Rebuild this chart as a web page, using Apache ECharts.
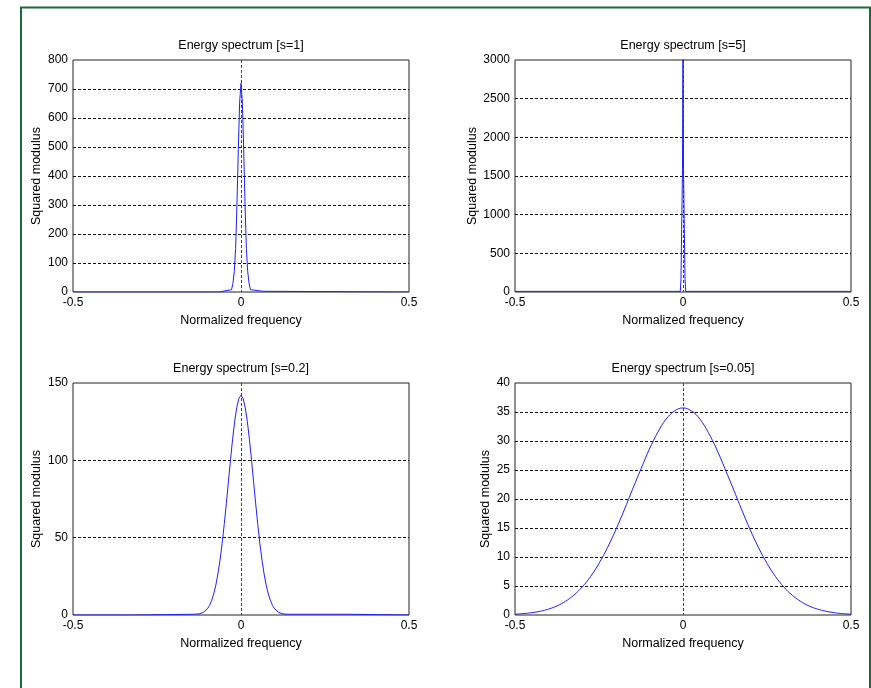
<!DOCTYPE html>
<html>
<head>
<meta charset="utf-8">
<title>Energy spectrum</title>
<script src="https://cdn.jsdelivr.net/npm/echarts@6/dist/echarts.min.js"></script>
<style>
  html, body { margin: 0; padding: 0; background: #fff; }
  #chart { width: 871px; height: 688px; }
</style>
</head>
<body>
<div id="chart"></div>
<script>
// panel titles / axis ranges
var titles = ['Energy spectrum [s=1]', 'Energy spectrum [s=5]', 'Energy spectrum [s=0.2]', 'Energy spectrum [s=0.05]'];
var yMax = [800, 3000, 150, 40];
var yStep = [100, 500, 50, 5];

// s=1
var freq1 = [-0.5, -0.066, -0.065, -0.028, -0.024, -0.02, -0.016, -0.012, -0.008, -0.004, 0,
  0.004, 0.008, 0.012, 0.016, 0.02, 0.024, 0.028, 0.065, 0.066, 0.5];
var mod1 = [0, 0, 2.5, 8, 30, 70, 150, 300, 490, 655, 720,
  655, 490, 300, 150, 70, 30, 8, 2.5, 0, 0];

// s=5, peak goes past the top of the axes
var freq2 = [-0.5, -0.008, -0.006, -0.0015, 0, 0.0015, 0.006, 0.008, 0.5];
var mod2 = [8, 8, 160, 1580, 3570, 1580, 160, 8, 8];

// s=0.2
var freq3 = [-0.5, -0.316, -0.315, -0.1375, -0.125, -0.1125, -0.1, -0.09375, -0.0875, -0.08125, -0.075,
  -0.06875, -0.0625, -0.05625, -0.05, -0.04375, -0.0375, -0.03125, -0.025, -0.01875, -0.0125, -0.00625, 0,
  0.00625, 0.0125, 0.01875, 0.025, 0.03125, 0.0375, 0.04375, 0.05, 0.05625, 0.0625, 0.06875,
  0.075, 0.08125, 0.0875, 0.09375, 0.1, 0.1125, 0.125, 0.1375, 0.315, 0.316, 0.5];
var mod3 = [0, 0, 0.5, 0.5, 0.7, 1.6, 4.0, 6.2, 9.3, 13.6, 19.2,
  26.5, 35.4, 46.1, 58.4, 71.9, 86.1, 100.3, 113.7, 125.3, 134.3, 140.0, 142,
  140.0, 134.3, 125.3, 113.7, 100.3, 86.1, 71.9, 58.4, 46.1, 35.4, 26.5,
  19.2, 13.6, 9.3, 6.2, 4.0, 1.6, 0.7, 0.5, 0.5, 0, 0];

// s=0.05
var freq4 = [-0.5, -0.475, -0.45, -0.425, -0.4, -0.375, -0.35, -0.325, -0.3, -0.275, -0.25, -0.225, -0.2,
  -0.175, -0.15, -0.125, -0.1, -0.075, -0.05, -0.025, 0, 0.025, 0.05, 0.075, 0.1, 0.125, 0.15, 0.175,
  0.2, 0.225, 0.25, 0.275, 0.3, 0.325, 0.35, 0.375, 0.4, 0.425, 0.45, 0.475, 0.5];
var mod4 = [0.14, 0.24, 0.40, 0.65, 1.02, 1.57, 2.35, 3.42, 4.83, 6.65, 8.9, 11.6, 14.7,
  18.1, 21.7, 25.2, 28.6, 31.5, 33.8, 35.2, 35.7, 35.2, 33.8, 31.5, 28.6, 25.2, 21.7, 18.1,
  14.7, 11.6, 8.9, 6.65, 4.83, 3.42, 2.35, 1.57, 1.02, 0.65, 0.40, 0.24, 0.14];

var freqs = [freq1, freq2, freq3, freq4];
var mods = [mod1, mod2, mod3, mod4];

// layout of the four axes boxes
var boxes = [
  { left: 73, top: 60, nameGap: 30 },
  { left: 515, top: 60, nameGap: 35 },
  { left: 73, top: 383, nameGap: 30 },
  { left: 515, top: 383, nameGap: 23 }
];
var boxW = 336, boxH = 232;
var font = 'Liberation Sans, Arial, Helvetica, sans-serif';

var chart = echarts.init(document.getElementById('chart'));

var option = {
  backgroundColor: '#fff',
  animation: false,
  title: [],
  grid: [],
  xAxis: [],
  yAxis: [],
  series: [],
  graphic: [{
    type: 'rect',
    shape: { x: 21, y: 7.5, width: 849, height: 720 },
    style: { fill: 'none', stroke: '#1a6b3c', lineWidth: 2 },
    silent: true
  }]
};

for (var i = 0; i < 4; i++) {
  var b = boxes[i];
  option.title.push({
    text: titles[i],
    left: b.left + boxW / 2,
    top: b.top - 21,
    textAlign: 'center',
    padding: 0,
    textStyle: { fontSize: 12.5, fontWeight: 'normal', color: '#000', fontFamily: font }
  });
  option.grid.push({
    left: b.left, top: b.top, width: boxW, height: boxH,
    show: true, borderColor: '#222', borderWidth: 1, backgroundColor: 'transparent'
  });
  option.xAxis.push({
    gridIndex: i, type: 'value', min: -0.5, max: 0.5, interval: 0.5,
    name: 'Normalized frequency', nameLocation: 'middle', nameGap: 22,
    nameTextStyle: { fontSize: 12.5, color: '#000', fontFamily: font },
    axisLine: { show: false }, axisTick: { show: false },
    axisLabel: { fontSize: 12, color: '#000', margin: 5, fontFamily: font, showMinLabel: true, showMaxLabel: true },
    splitLine: { show: true, showMinLine: false, showMaxLine: false, lineStyle: { color: '#444', type: [3, 2], width: 1 } }
  });
  option.yAxis.push({
    gridIndex: i, type: 'value', min: 0, max: yMax[i], interval: yStep[i],
    name: 'Squared modulus', nameLocation: 'middle', nameGap: b.nameGap, nameRotate: 90,
    nameTextStyle: { fontSize: 12.5, color: '#000', fontFamily: font },
    axisLine: { show: false }, axisTick: { show: false },
    axisLabel: { fontSize: 12, color: '#000', margin: 5, fontFamily: font, formatter: function (v) { return String(v); } },
    splitLine: { show: true, showMinLine: false, showMaxLine: false, lineStyle: { color: '#111', type: [3, 2], width: 1 } }
  });
  var pts = [];
  for (var k = 0; k < freqs[i].length; k++) pts.push([freqs[i][k], mods[i][k]]);
  option.series.push({
    type: 'line', xAxisIndex: i, yAxisIndex: i, data: pts,
    showSymbol: false, smooth: i === 3 ? 0.4 : false, clip: true,
    lineStyle: { color: '#1f1fff', width: 1 }
  });
}

chart.setOption(option);
</script>
</body>
</html>
